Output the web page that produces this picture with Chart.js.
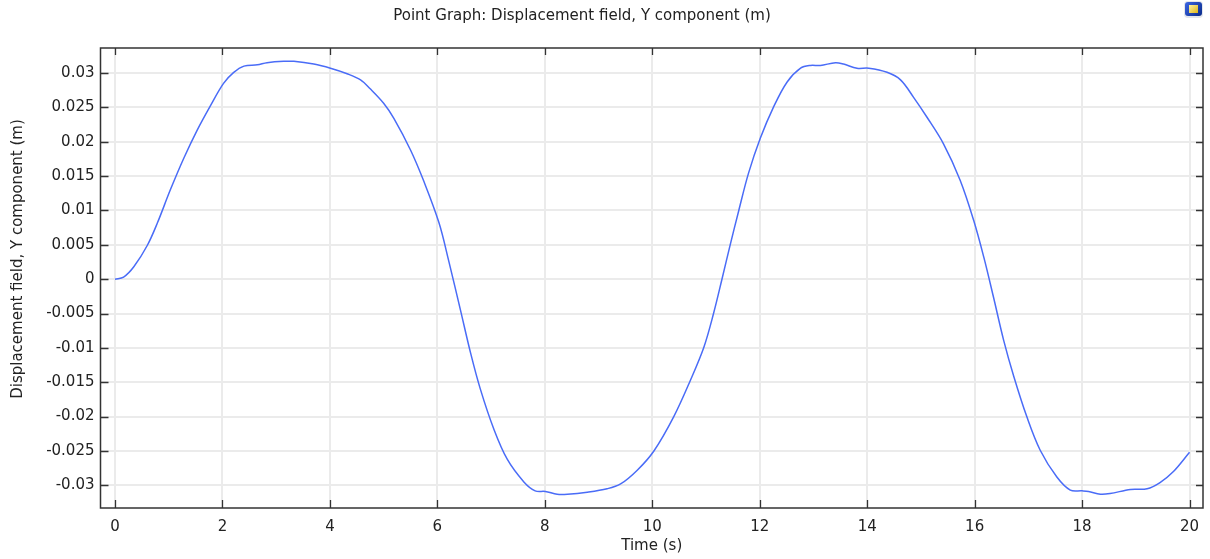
<!DOCTYPE html>
<html>
<head>
<meta charset="utf-8">
<script src="https://cdn.jsdelivr.net/npm/chart.js@4.4.1/dist/chart.umd.min.js"></script>
<style>
  html, body { margin: 0; padding: 0; background: #fff; }
  #wrap { width: 1210px; height: 559px; position: relative; }
</style>
</head>
<body>
<div id="wrap"><canvas id="chart"></canvas></div>
<script>
const timeValues = [
  0, 0.16, 0.35, 0.6, 0.79, 1.03, 1.28, 1.53, 1.78, 2.02, 2.21, 2.40, 2.65, 2.83, 3.14, 3.33,
  3.70, 4.01, 4.32, 4.57, 4.75, 5.0, 5.19, 5.50, 5.75, 6.03, 6.21, 6.43, 6.62, 6.80, 7.05,
  7.30, 7.61, 7.82, 8.01, 8.23, 8.42, 8.79, 9.16, 9.41, 9.72, 10.03, 10.40, 10.71, 10.96,
  11.14, 11.30, 11.45, 11.61, 11.79, 12.01, 12.26, 12.51, 12.76, 12.94, 13.13, 13.41, 13.56,
  13.81, 14.03, 14.37, 14.62, 14.86, 15.11, 15.42, 15.73, 15.98, 16.17, 16.35, 16.54, 16.73,
  16.97, 17.22, 17.53, 17.78, 18.0, 18.12, 18.34, 18.52, 18.9, 19.21, 19.45, 19.70, 20.0,
];
const dispY = [
  0, 0.0003, 0.0018, 0.0049, 0.0082, 0.0130, 0.0176, 0.0217, 0.0253, 0.0285, 0.0301, 0.0310,
  0.0312, 0.0315, 0.0317, 0.0317, 0.0313, 0.0307, 0.0299, 0.0290, 0.0277, 0.0256, 0.0234,
  0.0188, 0.0142, 0.0082, 0.0027, -0.0045, -0.0108, -0.0160, -0.0218, -0.0262, -0.0295,
  -0.0308, -0.0309, -0.0313, -0.0313, -0.0310, -0.0305, -0.0298, -0.0278, -0.0250, -0.0200,
  -0.0147, -0.0099, -0.0050, 0.0001, 0.0050, 0.0100, 0.0154, 0.0205, 0.0251, 0.0287, 0.0307,
  0.0311, 0.0311, 0.0315, 0.0313, 0.0307, 0.0307, 0.0301, 0.0290, 0.0265, 0.0236, 0.0197,
  0.0144, 0.0086, 0.0032, -0.0026, -0.0089, -0.0142, -0.0200, -0.0249, -0.0288, -0.0307,
  -0.0308, -0.0309, -0.0313, -0.0312, -0.0306, -0.0305, -0.0296, -0.0280, -0.0252,
];
const xTicks = [0, 2, 4, 6, 8, 10, 12, 14, 16, 18, 20];
const yTicks = [-0.03, -0.025, -0.02, -0.015, -0.01, -0.005, 0, 0.005, 0.01, 0.015, 0.02, 0.025, 0.03];

const FONT = 'DejaVu Sans, sans-serif';
const COLORS = {
  line: '#4a6cf7',
  grid: '#ebebeb',
  axis: '#333333',
  text: '#222222',
};

// frame, inward ticks, title, rotated y title, little corner icon
const framePlugin = {
  id: 'frame',
  afterDraw(chart) {
    const { ctx, chartArea: a, scales } = chart;
    ctx.save();
    ctx.strokeStyle = COLORS.axis;
    ctx.lineWidth = 1.5;
    ctx.strokeRect(a.left, a.top, a.right - a.left, a.bottom - a.top);

    ctx.lineWidth = 1.3;
    ctx.beginPath();
    xTicks.forEach((t) => {
      const px = Math.round(scales.x.getPixelForValue(t)) + 0.5;
      ctx.moveTo(px, a.bottom); ctx.lineTo(px, a.bottom - 8);
      ctx.moveTo(px, a.top); ctx.lineTo(px, a.top + 7);
    });
    yTicks.forEach((t) => {
      const py = Math.round(scales.y.getPixelForValue(t)) + 0.5;
      ctx.moveTo(a.left, py); ctx.lineTo(a.left + 8, py);
      ctx.moveTo(a.right, py); ctx.lineTo(a.right - 7, py);
    });
    ctx.stroke();

    ctx.fillStyle = COLORS.text;
    ctx.font = `15px ${FONT}`;
    ctx.textAlign = 'center';
    ctx.textBaseline = 'middle';
    ctx.fillText('Point Graph: Displacement field, Y component (m)', 582, 16);

    ctx.translate(18, 259);
    ctx.rotate(-Math.PI / 2);
    ctx.fillText('Displacement field, Y component (m)', 0, 0);
    ctx.restore();

    // icon
    ctx.save();
    const g = ctx.createLinearGradient(1186, 2, 1202, 16);
    g.addColorStop(0, '#3a64e0');
    g.addColorStop(1, '#0a2a8a');
    ctx.fillStyle = '#e3e6ec';
    ctx.beginPath();
    ctx.roundRect(1184, 1, 19, 17, 4);
    ctx.fill();
    ctx.fillStyle = g;
    ctx.beginPath();
    ctx.roundRect(1185, 2, 17, 14, 3);
    ctx.fill();
    const y = ctx.createLinearGradient(1189, 5, 1197, 13);
    y.addColorStop(0, '#fff3a0');
    y.addColorStop(1, '#e0b820');
    ctx.fillStyle = y;
    ctx.fillRect(1189, 5, 9, 8);
    ctx.restore();
  },
};

new Chart(document.getElementById('chart'), {
  type: 'line',
  data: {
    datasets: [{
      data: timeValues.map((t, i) => ({ x: t, y: dispY[i] })),
      borderColor: COLORS.line,
      borderWidth: 1.5,
      pointRadius: 0,
      tension: 0.35,
      fill: false,
    }],
  },
  options: {
    responsive: true,
    maintainAspectRatio: false,
    animation: false,
    layout: { padding: { top: 48, right: 7, left: 0, bottom: 0 } },
    plugins: {
      legend: { display: false },
      tooltip: { enabled: false },
    },
    scales: {
      x: {
        type: 'linear',
        min: -0.27,
        max: 20.25,
        afterBuildTicks: (s) => { s.ticks = xTicks.map((v) => ({ value: v })); },
        afterFit: (s) => { s.height = 51; },
        ticks: {
          color: COLORS.text,
          padding: 10,
          maxRotation: 0,
          font: { family: FONT, size: 15 },
        },
        grid: { color: COLORS.grid, lineWidth: 2, drawTicks: false },
        border: { display: false },
        title: {
          display: true,
          text: 'Time (s)',
          color: COLORS.text,
          font: { family: FONT, size: 15 },
          padding: { top: 0, bottom: 4 },
        },
      },
      y: {
        min: -0.0333,
        max: 0.03364,
        afterBuildTicks: (s) => { s.ticks = yTicks.map((v) => ({ value: v })); },
        afterFit: (s) => { s.width = 100.5; },
        ticks: {
          color: COLORS.text,
          padding: 6,
          font: { family: FONT, size: 15 },
          callback: (v) => String(Number(v.toFixed(3))),
        },
        grid: { color: COLORS.grid, lineWidth: 2, drawTicks: false },
        border: { display: false },
      },
    },
  },
  plugins: [framePlugin],
});
</script>
</body>
</html>
